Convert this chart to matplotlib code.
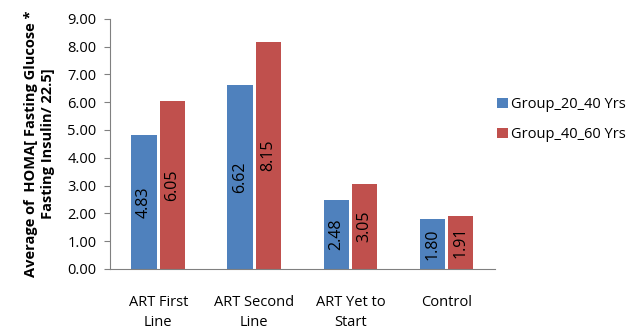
import numpy as np
import matplotlib.pyplot as plt

plt.rcParams['font.family'] = ['Open Sans', 'DejaVu Sans']

categories = ['ART First\nLine', 'ART Second\nLine', 'ART Yet to\nStart', 'Control']
group_20_40 = [4.83, 6.62, 2.48, 1.80]
group_40_60 = [6.05, 8.15, 3.05, 1.91]
series_names = ['Group_20_40 Yrs', 'Group_40_60 Yrs']

blue = '#4F81BD'
red = '#C0504D'

fig = plt.figure(figsize=(6.3, 3.3), dpi=100)
ax = fig.add_axes([0.175, 0.185, 0.61, 0.758])

x = np.arange(len(categories))
w = 0.265
gap = 0.015
b1 = ax.bar(x - w / 2 - gap, group_20_40, w, color=blue, label=series_names[0])
b2 = ax.bar(x + w / 2 + gap, group_40_60, w, color=red, label=series_names[1])

# value labels rotated inside each bar
for bars, vals in ((b1, group_20_40), (b2, group_40_60)):
    for rect, v in zip(bars, vals):
        ax.text(rect.get_x() + rect.get_width() / 2, v / 2, f'{v:.2f}',
                rotation=90, ha='center', va='center', fontsize=11.5, color='black')

ax.set_xlim(-0.5, 3.5)
ax.set_ylim(0, 9)
ax.set_yticks(np.arange(0, 10, 1))
ax.set_yticklabels([f'{v:.2f}' for v in np.arange(0, 10, 1)], fontsize=10.5)
ax.set_xticks(x)
ax.set_xticklabels(categories, fontsize=10.5, linespacing=1.45)
ax.tick_params(axis='x', length=0, pad=19)
ax.tick_params(axis='y', length=4, color='#808080', pad=6)

for side in ('top', 'right'):
    ax.spines[side].set_visible(False)
ax.spines['left'].set_color('#808080')
ax.spines['bottom'].set_color('#808080')

ax.set_ylabel('Average of  HOMA[ Fasting Glucose *\nFasting Insulin/ 22.5]',
              fontsize=10.5, fontweight='bold', labelpad=9)

ax.legend(loc='upper left', bbox_to_anchor=(1.0, 0.70), frameon=False,
          fontsize=10.5, handlelength=0.7, handleheight=0.7, handletextpad=0.25,
          labelspacing=1.05, borderpad=0, borderaxespad=0.2)

fig.savefig('out.png', dpi=100)
